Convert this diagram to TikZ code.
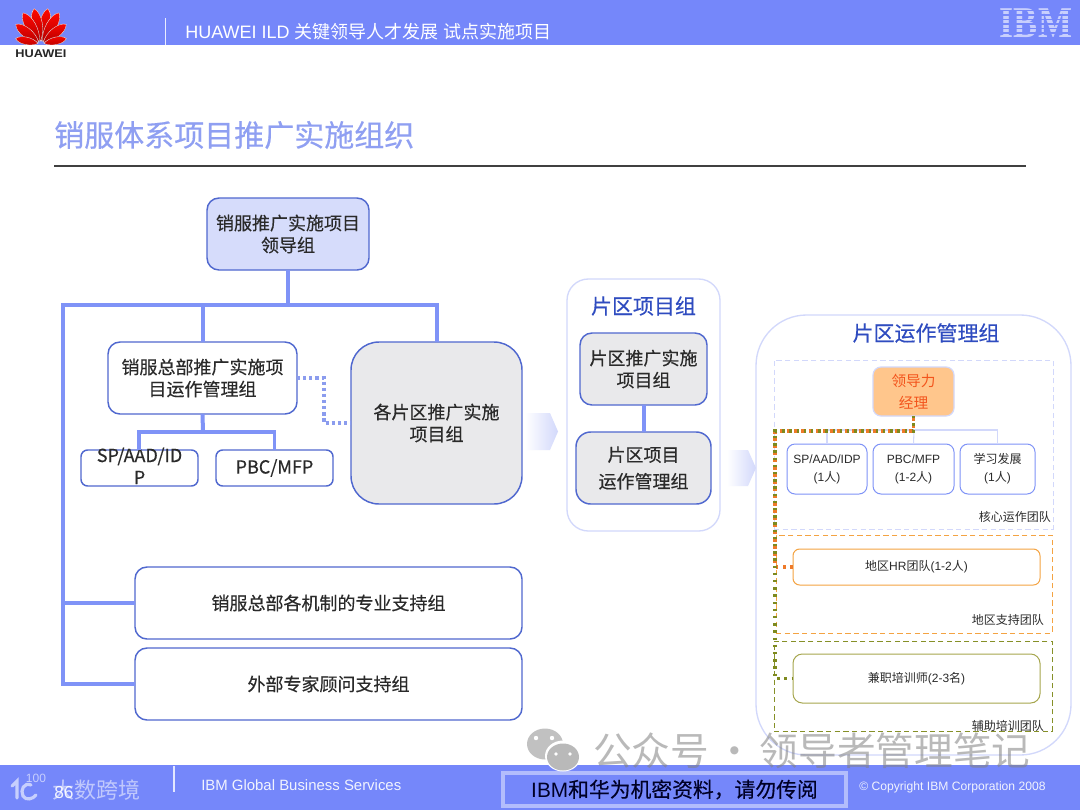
\documentclass[tikz,border=0pt]{standalone}
\usepackage{fontspec}
\setmainfont{Liberation Sans}
\newfontfamily\cj[FakeBold=0.35]{Noto Sans CJK SC}
\newfontfamily\cjl{Noto Sans CJK SC}
\newfontfamily\ibmf{Liberation Serif}
\newcommand{\lat}[1]{{\rmfamily #1}}
\definecolor{band}{HTML}{7587FA}
\definecolor{titlec}{HTML}{8F9FF2}
\definecolor{conn}{HTML}{7F93F7}
\definecolor{edgeb}{HTML}{5068CF}
\definecolor{grayf}{HTML}{E9E9EB}
\definecolor{leadf}{HTML}{D6DCFB}
\definecolor{pale}{HTML}{D2D8FB}
\definecolor{deepb}{HTML}{2F4CC0}
\definecolor{softb}{HTML}{8B9CEE}
\definecolor{orng}{HTML}{F4A342}
\definecolor{orngd}{HTML}{EE7A2A}
\definecolor{oliv}{HTML}{A6A64E}
\definecolor{olivd}{HTML}{7E8A1E}
\definecolor{txt}{HTML}{2A2A2A}
\tikzset{
  x=0.75pt,y=-0.75pt,
  bxs/.style={draw=edgeb,line width=1.1pt,fill=white,align=center,text=txt,inner sep=0pt,outer sep=0pt},
  zh18/.style={font=\cj\fontsize{13.5}{16.5}\selectfont},
  zh21/.style={font=\cj\fontsize{15.75}{18}\selectfont,text=deepb},
  small/.style={font=\cjl\fontsize{9}{13.5}\selectfont},
  tag/.style={font=\cjl\fontsize{9}{10}\selectfont,text=txt,anchor=east,inner sep=0pt},
  conl/.style={draw=conn,line width=3pt},
  thin con/.style={draw=pale,line width=.8pt},
  dotb/.style={draw=softb,line width=2.6pt,dash pattern=on 2.4pt off 2.2pt},
  doto/.style={draw=orngd,line width=2.4pt,dash pattern=on 1.8pt off 3.6pt,dash phase=3.6pt},
  dotg/.style={draw=olivd,line width=2.4pt,dash pattern=on 1.8pt off 3.6pt},
  chev/.style={left color=white,right color=pale,draw=none},
  zone/.style={line width=.75pt,dash pattern=on 4pt off 2.5pt},
}
\newcommand{\bx}[7]{%
  \pgfmathsetmacro{\cxx}{(#2+#4)/2}\pgfmathsetmacro{\cyy}{(#3+#5)/2}%
  \pgfmathsetmacro{\wdd}{(#4-#2)*0.75}\pgfmathsetmacro{\htt}{(#5-#3)*0.75}%
  \node[bxs,minimum width=\wdd pt,minimum height=\htt pt,#6] (#1) at (\cxx,\cyy) {#7};}
\begin{document}
\begin{tikzpicture}
\useasboundingbox (0,0) rectangle (1080,810);
\fill[white] (0,0) rectangle (1080,810);
% header
\fill[band] (0,0) rectangle (1080,45);
\draw[white!85!band,line width=.6pt] (165,18) -- (165,45);
\node[anchor=west,inner sep=0pt,text=white,font=\fontsize{13.5}{16}\selectfont] (hd) at (185,31.5) {HUAWEI ILD {\cjl 关键领导人才发展} {\cjl 试点实施项目}};
% huawei logo
\foreach \a/\l/\w in {-11/36/7,11/36/7,-30/36/7,30/36/7,-52/32/6.5,52/32/6.5,-78/26/5,78/26/5}{
  \filldraw[shift={(41,44)},rotate=\a,draw=white,line width=.25pt,top color=red!95!orange,bottom color=red!70!black]
    (0,-3) .. controls (-\w,-.35*\l) and (-\w,-.85*\l) .. (0,-\l) .. controls (\w,-.85*\l) and (\w,-.35*\l) .. (0,-3) -- cycle;
}
\node[inner sep=0pt,font=\bfseries\fontsize{8.4}{9}\selectfont,text=black!85,xscale=1.14] (hw) at (41,54) {HUAWEI};
% IBM logo
\node[inner sep=0pt,text=white!60!band,font=\ibmf\bfseries\fontsize{33}{33}\selectfont,xscale=.82] (ibm) at (1036,23) {IBM};
\foreach \yy in {10.5,15,19.5,24,28.5,33}{\draw[band,line width=1.1pt] (996,\yy) -- (1076,\yy);}
% title
\node[anchor=west,inner sep=0pt,text=titlec,font=\cj\fontsize{22.5}{24}\selectfont] (ttl) at (54,135) {销服体系项目推广实施组织};
\draw[black!75,line width=.9pt] (54,166) -- (1026,166);
% left tree nodes
\bx{lead}{207}{198}{369}{270}{rounded corners=9pt,fill=leadf,zh18}{销服推广实施项目\\领导组}
\bx{ops}{108}{342}{297}{414}{rounded corners=9pt,zh18}{销服总部推广实施项\\目运作管理组}
\bx{big}{351}{342}{522}{504}{rounded corners=21pt,fill=grayf,zh18}{各片区推广实施\\项目组}
\bx{sp}{81}{450}{198}{486}{rounded corners=5pt,zh18}{\smash{\raisebox{-2pt}{\parbox[c]{80pt}{\centering SP/AAD/ID\\P}}}}
\bx{pbc}{216}{450}{333}{486}{rounded corners=5pt,zh18}{PBC/MFP}
\bx{sup1}{135}{567}{522}{639}{rounded corners=9pt,zh18}{销服总部各机制的专业支持组}
\bx{sup2}{135}{648}{522}{720}{rounded corners=9pt,zh18}{外部专家顾问支持组}
\coordinate (j1) at (288,305);
\coordinate (tl) at (63,305);
\coordinate (j2) at (203,432);
\coordinate (jl) at (139,450);
\coordinate (dm) at (324,378);
\draw[conl] (lead.south) -- (j1);
\draw[conl] (ops.north |- tl) -- (ops.north);
\draw[conl] (big.north) -- (big.north |- tl) -- (tl) |- (sup2.west);
\draw[conl] (tl |- sup1.west) -- (sup1.west);
\draw[conl] (ops.south) -- (j2);
\draw[conl,line width=2.8pt] (jl) |- (j2) -| (pbc.north);
\draw[dotb] (ops.east) -- (dm) |- (big.west);
% mid panel
\bx{pm}{567}{279}{720}{531}{rounded corners=16pt,draw=pale,line width=1pt}{}
\node[zh21,inner sep=0pt] (pmt) at (643.5,306) {片区项目组};
\bx{pa}{580}{333}{707}{405}{rounded corners=9pt,fill=grayf,zh18}{片区推广实施\\项目组}
\bx{pb}{576}{432}{711}{504}{rounded corners=11pt,fill=grayf,zh18,font=\cj\fontsize{13.5}{20}\selectfont}{片区项目\\运作管理组}
\draw[conl] (pa.south -| pb.north) -- (pb.north);
% right panel
\bx{rm}{756}{315}{1071}{755}{rounded corners=38pt,draw=pale,line width=1pt}{}
\node[zh21,inner sep=0pt] (rmt) at (926,333) {片区运作管理组};
% chevrons
\path[chev] (525,413) -- (550,413) -- (558,431.5) -- (550,450) -- (525,450) -- cycle;
\path[chev] (727,450) -- (748,450) -- (756,468) -- (748,486) -- (727,486) -- cycle;
\node[draw=pale,zone,fill=none,minimum width=209.25pt,minimum height=126.75pt,inner sep=0pt] (z1) at (913.5,444.5) {};
\node[draw=orng,zone,fill=none,minimum width=207pt,minimum height=73.5pt,inner sep=0pt] (z2) at (914,584) {};
\node[draw=olivd!80!oliv,zone,fill=none,minimum width=208.5pt,minimum height=67.5pt,inner sep=0pt] (z3) at (913,686) {};
\bx{ldr}{873}{367}{954}{416}{rounded corners=6pt,draw=pale,fill=orange!45!white,line width=.9pt,font=\cjl\fontsize{11}{16.5}\selectfont,text=orngd!70!red}{领导力\\经理}
\bx{c1}{787}{444}{867}{494}{rounded corners=6pt,small,line width=.75pt,draw=conn}{\lat{SP/AAD/IDP}\\\lat{(1}人\lat{)}}
\bx{c2}{873}{444}{954}{494}{rounded corners=6pt,small,line width=.75pt,draw=conn}{\lat{PBC/MFP}\\\lat{(1-2}人\lat{)}}
\bx{c3}{960}{444}{1035}{494}{rounded corners=6pt,small,line width=.75pt,draw=conn}{学习发展\\\lat{(1}人\lat{)}}
\bx{hr}{793}{549}{1040}{585}{rounded corners=5pt,small,line width=.75pt,draw=orng}{地区\lat{HR}团队\lat{(1-2}人\lat{)}}
\bx{tr}{793}{654}{1040}{703}{rounded corners=7pt,small,line width=.75pt,draw=oliv}{兼职培训师\lat{(2-3}名\lat{)}}
\node[tag] (t1) at (1051,517) {核心运作团队};
\node[tag] (t2) at (1044,620) {地区支持团队};
\node[tag] (t3) at (1044,726) {辅助培训团队};
\coordinate (j3) at (914,430);
\coordinate (dj) at (775,431);
\draw[thin con] (c1.north) |- (j3) -| (c3.north);
\draw[thin con] (j3) -- (c2.north);
\draw[doto] (ldr.south) |- (dj) |- (hr.west);
\draw[dotg] (ldr.south) |- (dj) |- (tr.west);
% footer
\fill[band] (0,765) rectangle (1080,810);
\draw[white!80!band,line width=.8pt] (174,766) -- (174,792);
\node[anchor=west,inner sep=0pt,text=white!90!band,font=\fontsize{11.2}{12}\selectfont] (svc) at (201,785) {IBM Global Business Services};
\bx{conf}{503}{773}{846}{806}{draw=white!45!band,line width=3pt,fill=band,rounded corners=0pt,text=black!85!blue,font=\cj\fontsize{15.6}{16}\selectfont}{\lat{IBM}和华为机密资料，请勿传阅}
\node[anchor=west,inner sep=0pt,text=white!90!band,font=\fontsize{9.1}{10}\selectfont] (cpy) at (859,787) {© Copyright IBM Corporation 2008};
% watermarks
\node[inner sep=0pt,anchor=west,text=white,opacity=.55,font=\cjl\fontsize{16.5}{18}\selectfont] (wm1) at (52,790) {大数跨境};
\node[inner sep=0pt,text=white,opacity=.9,font=\fontsize{13}{14}\selectfont] (pg) at (64,793) {86};
\draw[white,opacity=.6,line width=2.4pt,line cap=round] (12,786) -- (17,781) -- (17,798);
\draw[white,opacity=.6,line width=2.4pt,line cap=round] (31,785) .. controls (24,782) and (20,790) .. (23,796) .. controls (26,801) and (33,799) .. (36,795);
\node[inner sep=0pt,text=white,opacity=.6,font=\fontsize{9}{9}\selectfont] (hund) at (36,778) {100};
\fill[gray!60,opacity=.8] (545,744) ellipse (18 and 15.5);
\fill[white] (536,738) circle (2.2) (552,738) circle (2.2);
\fill[white] (563,756) ellipse (18 and 15.5);
\fill[gray!60,opacity=.9] (563,757) ellipse (16 and 13.5);
\fill[white] (556,754) circle (1.8) (570,754) circle (1.8);
\node[inner sep=0pt,anchor=west,text=gray,opacity=.55,font=\cjl\fontsize{29}{30}\selectfont] (wm2) at (593,751) {公众号\hspace{-2pt} · \hspace{-2pt}领导者管理笔记};
\end{tikzpicture}
\end{document}
